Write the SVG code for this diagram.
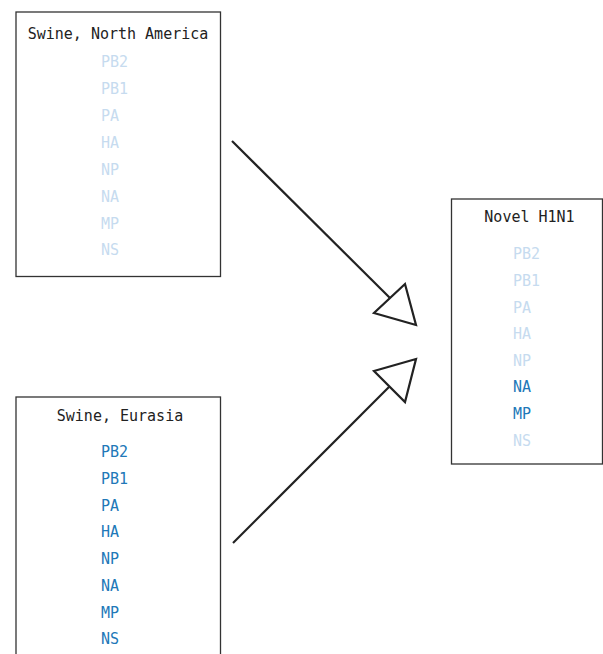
<svg xmlns="http://www.w3.org/2000/svg" width="603" height="654" viewBox="0 0 603 654">
<style>
.box{fill:#fff;stroke:#333;stroke-width:1.3}
.title{font-family:"DejaVu Sans Mono","Liberation Mono",monospace;font-size:15px;fill:#222;text-anchor:middle}
.g{font-family:"DejaVu Sans Mono","Liberation Mono",monospace;font-size:15px}
.lt{fill:#c6dbef}
.dk{fill:#2178b8}
.edge{fill:none;stroke:#222;stroke-width:2.2}
.head{fill:#fff;stroke:#222;stroke-width:2.2;stroke-linejoin:miter}
</style>
<rect width="603" height="654" fill="#fff"/>
<g id="swine-na">
<rect class="box" x="16" y="12" width="204.5" height="264.5"/>
<text class="title" x="118" y="39">Swine, North America</text>
<text class="g lt" x="101" y="67">PB2</text>
<text class="g lt" x="101" y="94">PB1</text>
<text class="g lt" x="101" y="121">PA</text>
<text class="g lt" x="101" y="147.5">HA</text>
<text class="g lt" x="101" y="174.5">NP</text>
<text class="g lt" x="101" y="201.5">NA</text>
<text class="g lt" x="101" y="228.5">MP</text>
<text class="g lt" x="101" y="255">NS</text>
</g>
<g id="swine-eurasia">
<rect class="box" x="16" y="397" width="204.5" height="270"/>
<text class="title" x="120" y="420.5">Swine, Eurasia</text>
<text class="g dk" x="101" y="456.5">PB2</text>
<text class="g dk" x="101" y="483.5">PB1</text>
<text class="g dk" x="101" y="510.5">PA</text>
<text class="g dk" x="101" y="537">HA</text>
<text class="g dk" x="101" y="564">NP</text>
<text class="g dk" x="101" y="591">NA</text>
<text class="g dk" x="101" y="617.5">MP</text>
<text class="g dk" x="101" y="644">NS</text>
</g>
<g id="novel-h1n1">
<rect class="box" x="451.5" y="199" width="151" height="265"/>
<text class="title" x="529.5" y="222">Novel H1N1</text>
<text class="g lt" x="513" y="259">PB2</text>
<text class="g lt" x="513" y="285.5">PB1</text>
<text class="g lt" x="513" y="312.5">PA</text>
<text class="g lt" x="513" y="339">HA</text>
<text class="g lt" x="513" y="365.5">NP</text>
<text class="g dk" x="513" y="392">NA</text>
<text class="g dk" x="513" y="419">MP</text>
<text class="g lt" x="513" y="445.5">NS</text>
</g>
<g id="connectors">
<line class="edge" x1="232" y1="141" x2="390" y2="298"/>
<polygon class="head" points="416,325 374,313 405,284"/>
<line class="edge" x1="233" y1="543" x2="390" y2="386"/>
<polygon class="head" points="416,359 374,371 405,402"/>
</g>
</svg>
